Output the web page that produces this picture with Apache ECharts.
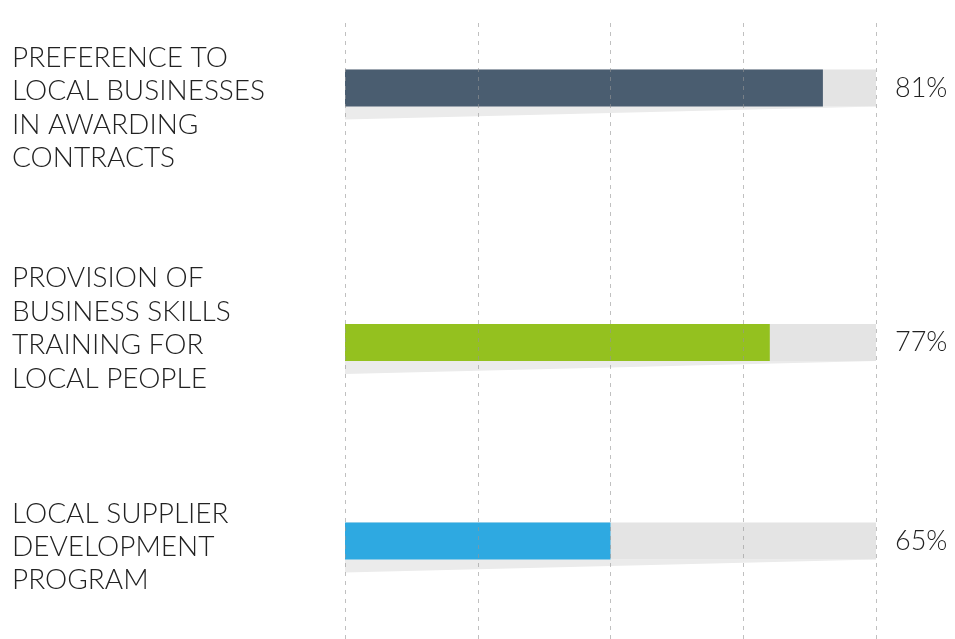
<!DOCTYPE html>
<html>
<head>
<meta charset="utf-8">
<script src="https://cdn.jsdelivr.net/npm/echarts@6/dist/echarts.min.js"></script>
<style>
  html, body { margin: 0; padding: 0; background: #ffffff; }
  #chart { width: 955px; height: 639px; }
</style>
</head>
<body>
<div id="chart"></div>
<script>
// Survey results: share of respondents per local-content initiative
const categories = [
  'PREFERENCE TO\nLOCAL BUSINESSES\nIN AWARDING\nCONTRACTS',
  'PROVISION OF\nBUSINESS SKILLS\nTRAINING FOR\nLOCAL PEOPLE',
  'LOCAL SUPPLIER\nDEVELOPMENT\nPROGRAM'
];
const values = [81, 77, 65];
const gridTicks = [45, 55, 65, 75, 85];
const barColors = ['#4a5d70', '#94c11f', '#2ea9e1'];

// layout
const scaleMin = gridTicks[0];
const scaleMax = gridTicks[gridTicks.length - 1];
const plotLeft = 345;
const plotRight = 79;
const rowCenters = [88, 342.5, 541];
const labelCenters = [108, 328.5, 547];
const barWidth = 37;
const wedgeDepth = 13;
const fontFamily = 'Lato, "Open Sans", sans-serif';
const textColor = '#222222';

const grids = [];
const xAxes = [];
const yAxes = [];
const series = [];

const hiddenCategoryAxis = (gridIndex, name) => ({
  gridIndex: gridIndex,
  type: 'category',
  data: [name],
  axisLine: { show: false },
  axisTick: { show: false },
  splitLine: { show: false },
  axisLabel: { show: false }
});

categories.forEach((name, i) => {
  // bar row
  const g = grids.length;
  grids.push({ left: plotLeft, right: plotRight, top: rowCenters[i] - 50, height: 100 });
  xAxes.push({ gridIndex: g, type: 'value', min: scaleMin, max: scaleMax, show: false });
  yAxes.push(hiddenCategoryAxis(g, name));

  // full-length track behind the value bar, carrying the percentage label
  series.push({
    type: 'bar',
    xAxisIndex: g,
    yAxisIndex: g,
    data: [scaleMax],
    barWidth: barWidth,
    barGap: '-100%',
    clip: true,
    silent: true,
    z: 1,
    itemStyle: { color: '#e4e4e4' },
    label: {
      show: true,
      position: 'right',
      distance: 19,
      formatter: () => values[i] + '%',
      fontFamily: fontFamily,
      fontWeight: 300,
      fontSize: 27,
      color: textColor
    }
  });

  // value bar
  series.push({
    type: 'bar',
    xAxisIndex: g,
    yAxisIndex: g,
    data: [values[i]],
    barWidth: barWidth,
    barGap: '-100%',
    clip: true,
    silent: true,
    z: 2,
    itemStyle: { color: barColors[i] }
  });

  // tapering shadow under the track
  series.push({
    type: 'custom',
    xAxisIndex: g,
    yAxisIndex: g,
    silent: true,
    z: 1,
    data: [[scaleMax, 0]],
    encode: { x: 0, y: 1 },
    renderItem: (params, api) => {
      const start = api.coord([scaleMin, 0]);
      const end = api.coord([scaleMax, 0]);
      const yb = start[1] + barWidth / 2;
      return {
        type: 'polygon',
        shape: { points: [[start[0], yb], [end[0], yb], [start[0], yb + wedgeDepth]] },
        style: { fill: '#ebebeb' }
      };
    }
  });

  // category label row
  const lg = grids.length;
  grids.push({ left: plotLeft, right: plotRight, top: labelCenters[i] - 50, height: 100 });
  xAxes.push({ gridIndex: lg, type: 'value', min: scaleMin, max: scaleMax, show: false });
  yAxes.push({
    gridIndex: lg,
    type: 'category',
    data: [name],
    axisLine: { show: false },
    axisTick: { show: false },
    splitLine: { show: false },
    axisLabel: {
      align: 'left',
      margin: plotLeft - 12,
      fontFamily: fontFamily,
      fontWeight: 300,
      fontSize: 28,
      lineHeight: 33.4,
      color: textColor
    }
  });
});

// full-height grid for the dashed reference lines
const gi = grids.length;
grids.push({ left: plotLeft, right: plotRight, top: 18, bottom: 0 });
xAxes.push({ gridIndex: gi, type: 'value', min: scaleMin, max: scaleMax, show: false });
yAxes.push({ gridIndex: gi, type: 'value', min: 0, max: 1, show: false });
series.push({
  type: 'line',
  xAxisIndex: gi,
  yAxisIndex: gi,
  data: [],
  silent: true,
  z: 5,
  markLine: {
    silent: true,
    symbol: ['none', 'none'],
    label: { show: false },
    lineStyle: { type: [4, 5], color: 'rgba(150,150,150,0.6)', width: 1 },
    data: gridTicks.map(v => ({ xAxis: v }))
  }
});

const chart = echarts.init(document.getElementById('chart'), null, { renderer: 'canvas' });
chart.setOption({
  animation: false,
  backgroundColor: '#ffffff',
  grid: grids,
  xAxis: xAxes,
  yAxis: yAxes,
  series: series
});
</script>
</body>
</html>
